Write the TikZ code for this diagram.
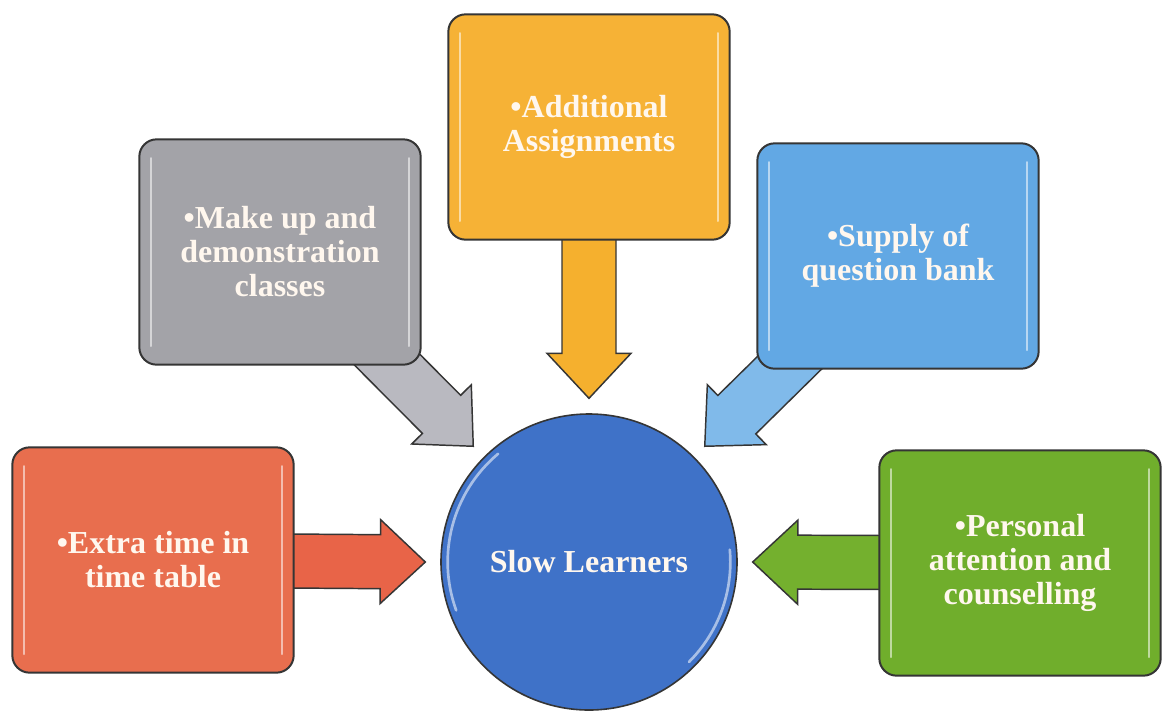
\documentclass[tikz,border=0pt]{standalone}
\usepackage{fontspec}
\setmainfont{Liberation Serif}
\usetikzlibrary{calc,backgrounds}

\definecolor{redbox}{HTML}{E86E4E}
\definecolor{graybox}{HTML}{A3A3A8}
\definecolor{orangebox}{HTML}{F6B236}
\definecolor{bluebox}{HTML}{62A8E4}
\definecolor{greenbox}{HTML}{70AE2C}
\definecolor{circblue}{HTML}{3F72C8}
\definecolor{redarrow}{HTML}{E86448}
\definecolor{grayarrow}{HTML}{B9B9C0}
\definecolor{orangearrow}{HTML}{F5B02E}
\definecolor{bluearrow}{HTML}{80BAEA}
\definecolor{greenarrow}{HTML}{74B02E}
\definecolor{boxtext}{HTML}{FFF7EE}
\definecolor{boxline}{HTML}{353535}

\newcommand{\blockarrow}[3]{%
  \coordinate (ba-s) at (#1);
  \coordinate (ba-e) at (#2);
  \coordinate (ba-b) at ($(ba-e)!33.75pt!(ba-s)$);
  \draw[arrowbody, fill=#3] ($(ba-s)!20.25pt!90:(ba-e)$) -- ($(ba-b)!20.25pt!90:(ba-e)$)
    -- ($(ba-b)!31.5pt!90:(ba-e)$) -- (ba-e) -- ($(ba-b)!31.5pt!-90:(ba-e)$)
    -- ($(ba-b)!20.25pt!-90:(ba-e)$) -- ($(ba-s)!20.25pt!-90:(ba-e)$) -- cycle;
}

\begin{document}
\begin{tikzpicture}[x=0.75pt, y=-0.75pt,
    box/.style={rectangle, rounded corners=13pt, draw=boxline, line width=1.5pt,
      minimum width=211pt, minimum height=169pt, align=center, text=boxtext,
      font=\bfseries\fontsize{24}{25.5}\selectfont, glossy},
    glossy/.style={path picture={
      \draw[white, opacity=.55, line width=1.5pt, line cap=round]
        ([shift={(9pt,-14pt)}]path picture bounding box.north west) -- ([shift={(9pt,14pt)}]path picture bounding box.south west)
        ([shift={(-9pt,-14pt)}]path picture bounding box.north east) -- ([shift={(-9pt,14pt)}]path picture bounding box.south east);}},
    hub/.style={circle, draw=boxline, line width=1.2pt, fill=circblue, minimum size=222pt,
      text=boxtext, font=\bfseries\fontsize{24}{25.5}\selectfont},
    arrowbody/.style={draw=boxline, line width=1.1pt, line join=miter}
  ]
  \useasboundingbox (0,0) rectangle (1162,711);

  \node[hub] (slowlearn) at (589,562) {Slow Learners};
  \node[box, fill=redbox] (extratime) at (153,560) {\textbullet Extra time in\\time table};
  \node[box, fill=graybox] (makeup) at (280,252) {\textbullet Make up and\\demonstration\\classes};
  \node[box, fill=orangebox] (assign) at (589,127) {\textbullet Additional\\Assignments};
  \node[box, fill=bluebox] (qbank) at (898,256) {\textbullet Supply of\\question bank};
  \node[box, fill=greenbox] (personal) at (1020,563) {\textbullet Personal\\attention and\\counselling};

  \draw[white, opacity=.55, line width=2pt, line cap=round]
    ([shift={(130:106pt)}]slowlearn.center) arc[start angle=130, end angle=200, radius=106pt];
  \draw[white, opacity=.55, line width=2pt, line cap=round]
    ([shift={(-45:106pt)}]slowlearn.center) arc[start angle=-45, end angle=5, radius=106pt];

  \begin{scope}[on background layer]
    \fill[white] (0,0) rectangle (1162,711);
    \blockarrow{extratime.center}{$(slowlearn.center)!1.1!(slowlearn.west)$}{redarrow}
    \blockarrow{makeup.center}{$(slowlearn.center)!1.1!(slowlearn.135)$}{grayarrow}
    \blockarrow{assign.center}{$(slowlearn.center)!1.1!(slowlearn.north)$}{orangearrow}
    \blockarrow{qbank.center}{$(slowlearn.center)!1.1!(slowlearn.45)$}{bluearrow}
    \blockarrow{personal.center}{$(slowlearn.center)!1.1!(slowlearn.east)$}{greenarrow}
  \end{scope}
\end{tikzpicture}
\end{document}
